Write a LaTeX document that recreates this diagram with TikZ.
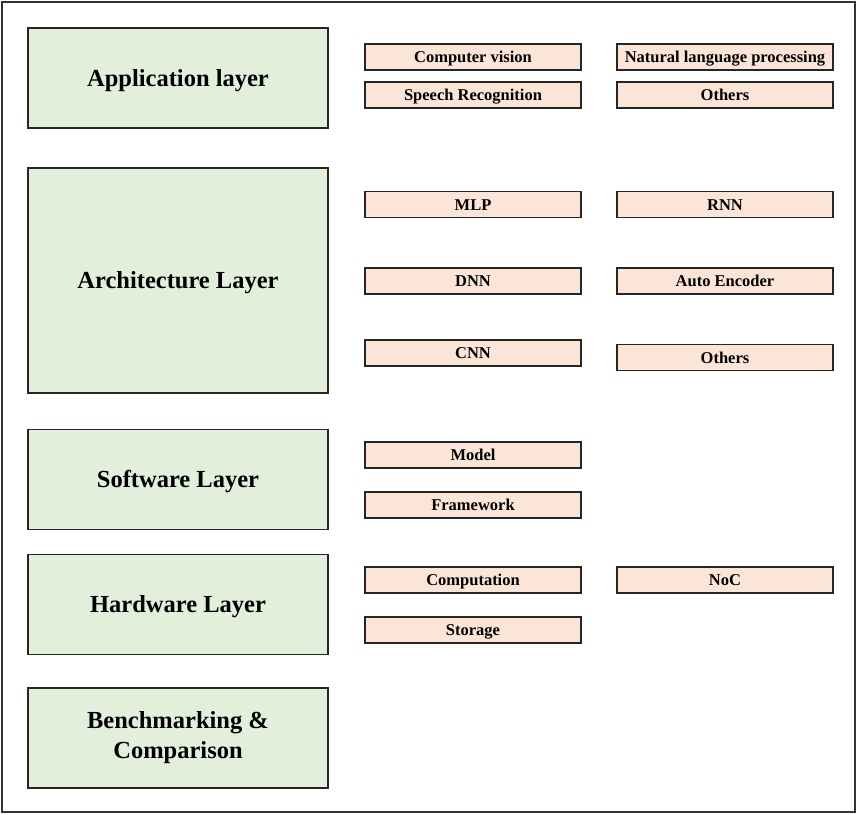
\documentclass[tikz,border=0pt]{standalone}
\usepackage{fontspec}
\setmainfont{Liberation Serif}

\definecolor{layergreen}{HTML}{E2EFDA}
\definecolor{itempeach}{HTML}{FBE5D6}

\tikzset{
    layer/.style={draw=black!85, line width=1.8pt, fill=layergreen, minimum width=300pt,
        minimum height=100pt, align=center, font=\fontsize{24.5}{30}\selectfont\bfseries},
    oneline/.style={layer, text height=16.5pt, text depth=0pt},
    item/.style={draw=black!85, line width=1.6pt, fill=itempeach, minimum width=216pt,
        minimum height=26pt, inner sep=0pt, text height=11pt, text depth=0pt,
        font=\fontsize{16.5}{18}\selectfont\bfseries},
}

\begin{document}
\begin{tikzpicture}[x=1pt, y=-1pt]
        \useasboundingbox (0,0) rectangle (858,814);
        \draw[black!80, line width=1.5pt] (2,2) rectangle (855,812);

        % layers on the left
        \node[oneline] (app)   at (178, 78)    {Application layer};
        \node[oneline, minimum height=225pt] (arch) at (178, 280.5) {Architecture Layer};
        \node[oneline] (soft)  at (178, 479.5) {Software Layer};
        \node[oneline] (hard)  at (178, 604.5) {Hardware Layer};
        \node[layer]   (bench) at (178, 738)   {Benchmarking \&\\Comparison};

        % application
        \node[item] (cv)     at (473, 57) {Computer vision};
        \node[item] (nlp)    at (725, 57) {Natural language processing};
        \node[item] (speech) at (473, 95) {Speech Recognition};
        \node[item] (appoth) at (725, 95) {Others};

        % architecture
        \node[item] (mlp)     at (473, 204.5) {MLP};
        \node[item] (rnn)     at (725, 204.5) {RNN};
        \node[item] (dnn)     at (473, 281)   {DNN};
        \node[item] (ae)      at (725, 281)   {Auto Encoder};
        \node[item] (cnn)     at (473, 353)   {CNN};
        \node[item] (archoth) at (725, 357.5) {Others};

        % software
        \node[item] (model) at (473, 455) {Model};
        \node[item] (frame) at (473, 505) {Framework};

        % hardware
        \node[item] (comp)    at (473, 580) {Computation};
        \node[item] (noc)     at (725, 580) {NoC};
        \node[item] (storage) at (473, 630) {Storage};

    \end{tikzpicture}
\end{document}
